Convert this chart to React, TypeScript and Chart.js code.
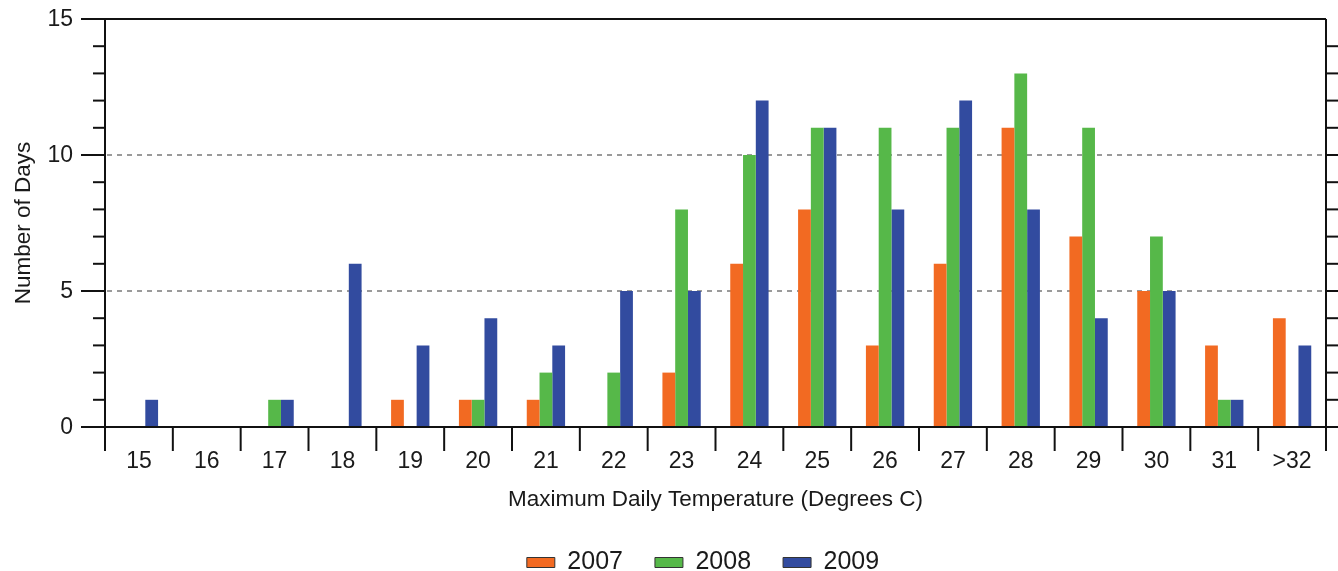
import React, { useEffect, useRef } from 'react';
import { Chart, registerables } from 'chart.js';

Chart.register(...registerables);

const categories = ['15', '16', '17', '18', '19', '20', '21', '22', '23', '24', '25', '26', '27', '28', '29', '30', '31', '>32'];
const series2007 = [0, 0, 0, 0, 1, 1, 1, 0, 2, 6, 8, 3, 6, 11, 7, 5, 3, 4];
const series2008 = [0, 0, 1, 0, 0, 1, 2, 2, 8, 10, 11, 11, 11, 13, 11, 7, 1, 0];
const series2009 = [1, 0, 1, 6, 3, 4, 3, 5, 5, 12, 11, 8, 12, 8, 4, 5, 1, 3];
const seriesNames = ['2007', '2008', '2009'];
const seriesColors = ['#F26A22', '#56B849', '#324B9F'];
const yLabelTicks = [0, 5, 10, 15];
const dashedGridValues = [5, 10];

const FONT = '"Liberation Sans", Arial, Helvetica, sans-serif';

const framePlugin = {
  id: 'frame',
  beforeDatasetsDraw(chart: any) {
    const { ctx, chartArea, scales } = chart;
    const { left, right } = chartArea;
    const y = scales.y;
    ctx.save();
    ctx.strokeStyle = '#9a9a9a';
    ctx.lineWidth = 2;
    ctx.setLineDash([5, 5]);
    dashedGridValues.forEach((v) => {
      const py = Math.round(y.getPixelForValue(v));
      ctx.beginPath();
      ctx.moveTo(left + 2, py);
      ctx.lineTo(right - 2, py);
      ctx.stroke();
    });
    ctx.restore();
  },
  afterDatasetsDraw(chart: any) {
    const { ctx, chartArea, scales } = chart;
    const { left, right, top, bottom } = chartArea;
    const y = scales.y;
    const x = scales.x;
    ctx.save();
    ctx.strokeStyle = '#111';
    ctx.lineWidth = 2;
    ctx.setLineDash([]);
    const line = (x1: number, y1: number, x2: number, y2: number) => {
      ctx.beginPath();
      ctx.moveTo(x1, y1);
      ctx.lineTo(x2, y2);
      ctx.stroke();
    };
    line(left - 24, top, right, top);
    line(left - 24, bottom, right + 12, bottom);
    line(left, top, left, bottom + 24);
    line(right, top, right, bottom + 24);
    const yMin = y.min;
    const yMax = y.max;
    for (let v = yMin; v <= yMax; v++) {
      const py = y.getPixelForValue(v);
      const major = yLabelTicks.includes(v);
      line(left - (major ? 24 : 12), py, left, py);
      if (v > yMin && v < yMax) line(right, py, right + 12, py);
    }
    const n = categories.length;
    const half = (x.getPixelForValue(1) - x.getPixelForValue(0)) / 2;
    for (let i = 0; i <= n; i++) {
      const px = i < n ? x.getPixelForValue(i) - half : x.getPixelForValue(n - 1) + half;
      line(px, bottom, px, bottom + 24);
    }
    // y tick labels
    ctx.fillStyle = '#1a1a1a';
    ctx.font = `23px ${FONT}`;
    ctx.textAlign = 'right';
    ctx.textBaseline = 'middle';
    yLabelTicks.forEach((v) => {
      ctx.fillText(String(v), left - 32, y.getPixelForValue(v) + 1);
    });
    ctx.restore();
  },
};

export default function App() {
  const canvasRef = useRef<HTMLCanvasElement | null>(null);

  useEffect(() => {
    document.body.style.margin = '0';
    const canvas = canvasRef.current;
    if (!canvas) return;
    const data = [series2007, series2008, series2009];
    const chart = new Chart(canvas, {
      type: 'bar',
      data: {
        labels: categories,
        datasets: seriesNames.map((name, i) => ({
          label: name,
          data: data[i],
          backgroundColor: seriesColors[i],
          borderWidth: 0,
          categoryPercentage: 0.565,
          barPercentage: 1.0,
        })),
      },
      options: {
        animation: false,
        responsive: false,
        maintainAspectRatio: false,
        layout: { padding: { top: 19, right: 12, left: 80, bottom: -14 } },
        scales: {
          x: {
            offset: true,
            grid: { display: true, drawOnChartArea: false, drawTicks: false, color: 'transparent' },
            border: { display: false },
            ticks: { color: '#1a1a1a', font: { family: FONT, size: 23 }, padding: 21, maxRotation: 0, autoSkip: false },
            title: {
              display: true,
              text: 'Maximum Daily Temperature (Degrees C)',
              color: '#1a1a1a',
              font: { family: FONT, size: 22.5 },
              padding: { top: 0, bottom: 4.5 },
            },
            afterFit: (scale: any) => {
              scale.height = 91;
            },
          },
          y: {
            min: 0,
            max: 15,
            grid: { display: false },
            border: { display: false },
            ticks: { display: false, stepSize: 1 },
            title: {
              display: true,
              text: 'Number of Days',
              color: '#1a1a1a',
              font: { family: FONT, size: 22.5 },
              padding: { top: -70, bottom: 0 },
            },
            afterFit: (scale: any) => {
              scale.width = 25;
            },
          },
        },
        plugins: {
          legend: {
            position: 'bottom',
            labels: {
              color: '#1a1a1a',
              font: { family: FONT, size: 25 },
              boxWidth: 28,
              boxHeight: 10,
              padding: 32,
              generateLabels: (ch: any) =>
                ch.data.datasets.map((ds: any, i: number) => ({
                  text: ds.label,
                  fillStyle: ds.backgroundColor,
                  strokeStyle: '#333',
                  lineWidth: 1,
                  hidden: false,
                  datasetIndex: i,
                  fontColor: '#1a1a1a',
                })),
            },
          },
          tooltip: { enabled: false },
        },
      },
      plugins: [framePlugin],
    });
    return () => chart.destroy();
  }, []);

  return (
    <div style={{ position: 'fixed', left: 0, top: 0, width: 1338, height: 571, background: '#fff' }}>
      <canvas ref={canvasRef} width={1338} height={571} style={{ width: 1338, height: 571, display: 'block' }} />
    </div>
  );
}
